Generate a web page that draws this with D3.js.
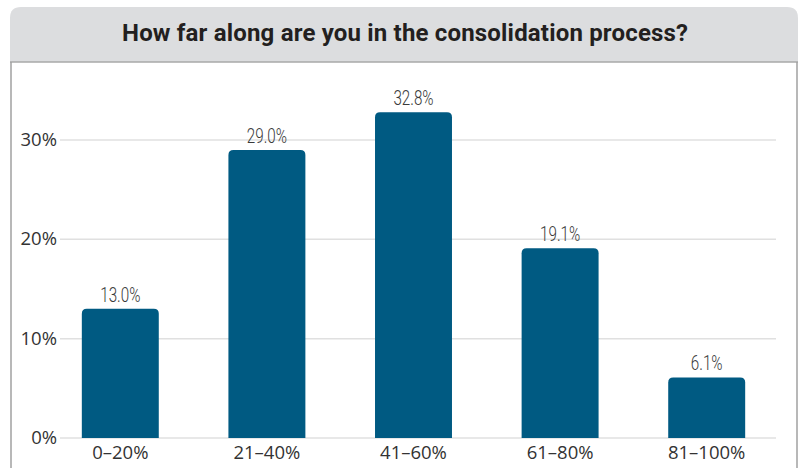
<!DOCTYPE html>
<html>
<head>
<meta charset="utf-8">
<script src="https://cdn.jsdelivr.net/npm/d3@7"></script>
<style>
  body { margin: 0; background: #fff; }
</style>
</head>
<body>
<div id="chart"></div>
<script>
// data
var categories = ["0–20%", "21–40%", "41–60%", "61–80%", "81–100%"];
var values = [13.0, 29.0, 32.8, 19.1, 6.1];
var yTicks = [0, 10, 20, 30];
var title = "How far along are you in the consolidation process?";

var width = 802, height = 468;

var svg = d3.select("#chart")
  .append("svg")
    .attr("width", width)
    .attr("height", height);

// header panel with rounded top corners
var hx0 = 10, hx1 = 798, hy0 = 7, hy1 = 62, r = 11;
svg.append("path")
  .attr("d", "M" + hx0 + "," + hy1 +
    " L" + hx0 + "," + (hy0 + r) +
    " Q" + hx0 + "," + hy0 + " " + (hx0 + r) + "," + hy0 +
    " L" + (hx1 - r) + "," + hy0 +
    " Q" + hx1 + "," + hy0 + " " + hx1 + "," + (hy0 + r) +
    " L" + hx1 + "," + hy1 + " Z")
  .style("fill", "#dcdddf");

svg.append("line")
  .attr("x1", hx0).attr("x2", hx1)
  .attr("y1", hy1).attr("y2", hy1)
  .style("stroke", "#a8a8a8")
  .style("stroke-width", 1.5);

// side borders of the white box
svg.append("line")
  .attr("x1", 11).attr("x2", 11).attr("y1", hy1).attr("y2", height)
  .style("stroke", "#a0a0a0").style("stroke-width", 1.5);
svg.append("line")
  .attr("x1", 797).attr("x2", 797).attr("y1", hy1).attr("y2", height)
  .style("stroke", "#a0a0a0").style("stroke-width", 1.5);

// title
svg.append("text")
  .attr("x", 405)
  .attr("y", 41)
  .attr("text-anchor", "middle")
  .attr("font-family", "Roboto, sans-serif")
  .attr("font-weight", "bold")
  .attr("font-size", "24px")
  .attr("textLength", 566)
  .attr("fill", "#231f20")
  .text(title);

// scales
var x = d3.scaleBand()
  .domain(categories)
  .range([47, 780])
  .paddingInner(0.475)
  .paddingOuter(0.2375);

var y = d3.scaleLinear()
  .domain([0, 30])
  .range([438, 140]);

// gridlines
svg.selectAll(".grid")
  .data(yTicks)
  .enter()
  .append("line")
    .attr("x1", 60)
    .attr("x2", 776)
    .attr("y1", function(d) { return y(d); })
    .attr("y2", function(d) { return y(d); })
    .style("stroke", "#e0e0e0")
    .style("stroke-width", 1.5);

// y tick labels
svg.selectAll(".ytick")
  .data(yTicks)
  .enter()
  .append("text")
    .attr("x", 57)
    .attr("y", function(d) { return y(d) + 6; })
    .attr("text-anchor", "end")
    .attr("font-family", "'Open Sans', sans-serif")
    .attr("font-size", "18.5px")
    .attr("fill", "#333")
    .text(function(d) { return d + "%"; });

// bars with rounded top corners
function barPath(x0, w, yTop, yBase, rad) {
  rad = Math.min(rad, (yBase - yTop));
  return "M" + x0 + "," + yBase +
    " L" + x0 + "," + (yTop + rad) +
    " Q" + x0 + "," + yTop + " " + (x0 + rad) + "," + yTop +
    " L" + (x0 + w - rad) + "," + yTop +
    " Q" + (x0 + w) + "," + yTop + " " + (x0 + w) + "," + (yTop + rad) +
    " L" + (x0 + w) + "," + yBase + " Z";
}

svg.selectAll(".bar")
  .data(values)
  .enter()
  .append("path")
    .attr("d", function(d, i) {
      return barPath(x(categories[i]), x.bandwidth(), y(d), y(0), 5);
    })
    .style("fill", "#005a82");

// value labels (condensed look: squeeze horizontally)
svg.selectAll(".val")
  .data(values)
  .enter()
  .append("text")
    .attr("transform", function(d, i) {
      return "translate(" + (x(categories[i]) + x.bandwidth() / 2) + "," + (y(d) - 7) + ") scale(0.78,1)";
    })
    .attr("text-anchor", "middle")
    .attr("font-family", "Roboto, sans-serif")
    .attr("font-weight", "300")
    .attr("font-size", "19.5px")
    .attr("fill", "#3a3a3a")
    .text(function(d) { return d.toFixed(1) + "%"; });

// category labels
svg.selectAll(".cat")
  .data(categories)
  .enter()
  .append("text")
    .attr("x", function(d) { return x(d) + x.bandwidth() / 2; })
    .attr("y", 459)
    .attr("text-anchor", "middle")
    .attr("font-family", "'Open Sans', sans-serif")
    .attr("font-size", "18.5px")
    .attr("fill", "#333")
    .text(function(d) { return d; });
</script>
</body>
</html>
